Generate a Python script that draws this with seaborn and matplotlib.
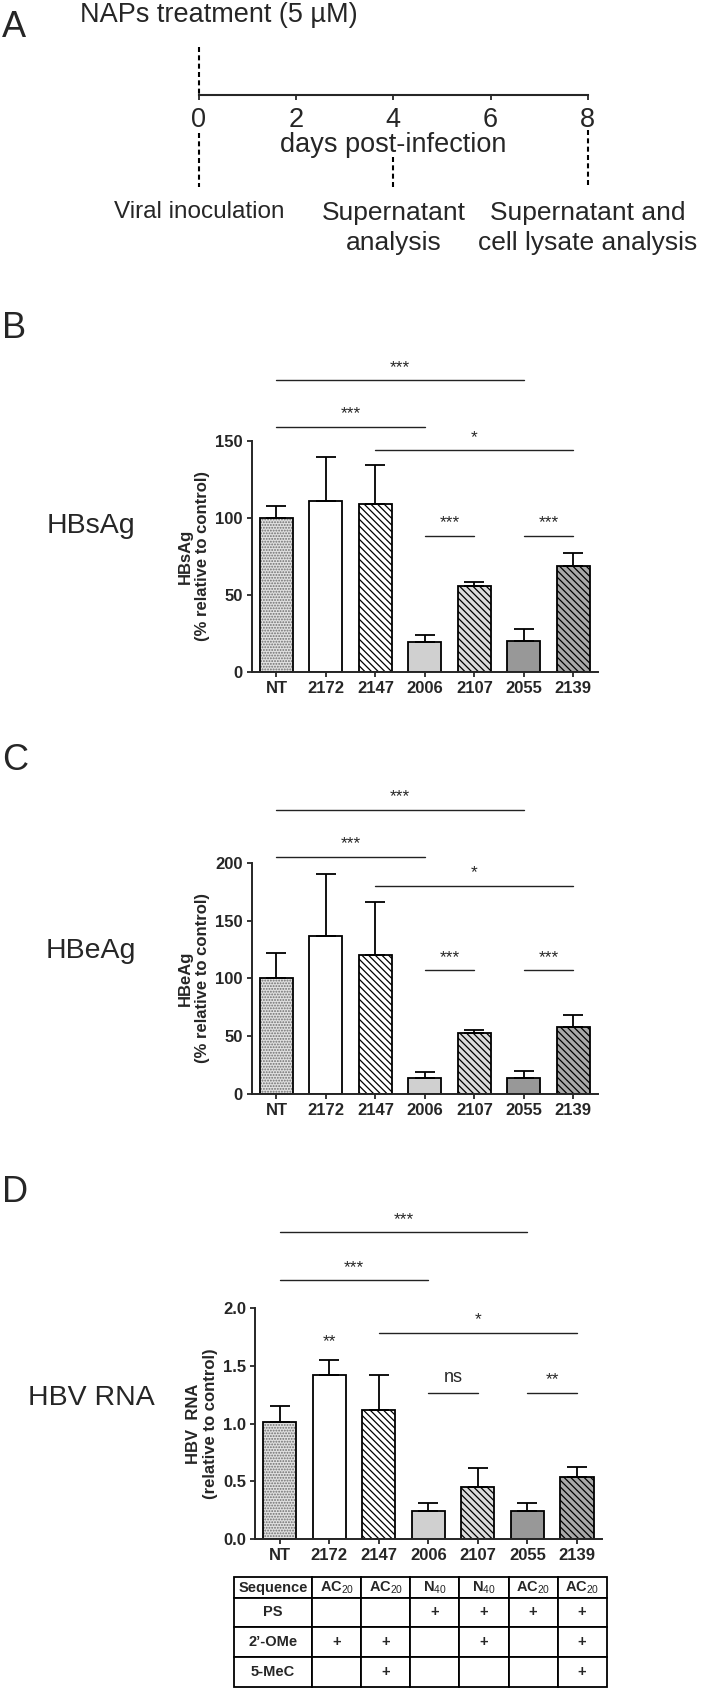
import matplotlib
matplotlib.use("Agg")
import matplotlib.pyplot as plt
import seaborn as sns
import pandas as pd
from matplotlib.patches import Rectangle

# ---- data ----
samples = ["NT", "2172", "2147", "2006", "2107", "2055", "2139"]

hbsag_mean = [100, 111, 109, 19.5, 55.7, 20.2, 68.9]
hbsag_err = [7.5, 28.6, 25.4, 4.3, 2.4, 7.3, 8.3]
hbeag_mean = [100, 136.6, 119.9, 14.1, 53.0, 13.5, 57.6]
hbeag_err = [21.6, 53.3, 45.8, 5.2, 2.3, 6.7, 10.4]
rna_mean = [1.01, 1.415, 1.115, 0.248, 0.452, 0.248, 0.539]
rna_err = [0.144, 0.132, 0.308, 0.066, 0.167, 0.066, 0.086]

hbsag_ticks = [0, 50, 100, 150]
hbeag_ticks = [0, 50, 100, 150, 200]
rna_ticks = [0.0, 0.5, 1.0, 1.5, 2.0]

# significance: (from bar, to bar, height, label)
hbsag_sig = [(0, 5, 189.5, "***"), (0, 3, 159.3, "***"), (2, 6, 144, "*"),
             (3, 4, 88.4, "***"), (5, 6, 88.4, "***")]
hbeag_sig = [(0, 5, 245.8, "***"), (0, 3, 205.2, "***"), (2, 6, 179.9, "*"),
             (3, 4, 107.2, "***"), (5, 6, 107.2, "***")]
rna_sig = [(0, 5, 2.651, "***"), (0, 3, 2.237, "***"), (2, 6, 1.784, "*"),
           (3, 4, 1.266, "ns"), (5, 6, 1.266, "**")]
rna_single = [(1, 1.67, "**")]

# timeline (panel A)
days = [0, 2, 4, 6, 8]
event_days = [0, 4, 8]
event_labels = ["Viral inoculation", "Supernatant\nanalysis",
                "Supernatant and\ncell lysate analysis"]

# table under panel D
row_names = ["Sequence", "PS", "2’-OMe", "5-MeC"]
seq = ["AC$_\\mathrm{20}$", "AC$_\\mathrm{20}$", "N$_\\mathrm{40}$",
       "N$_\\mathrm{40}$", "AC$_\\mathrm{20}$", "AC$_\\mathrm{20}$"]
ps = ["", "", "+", "+", "+", "+"]
ome = ["+", "+", "", "+", "", "+"]
mec = ["", "+", "", "", "", "+"]

# ---- style ----
sns.set_style("ticks")
plt.rcParams["font.family"] = ["Liberation Sans", "DejaVu Sans"]
plt.rcParams["mathtext.fontset"] = "custom"
plt.rcParams["mathtext.rm"] = "Liberation Sans"
plt.rcParams["mathtext.bf"] = "Liberation Sans:bold"
plt.rcParams["hatch.linewidth"] = 0.9

faces = ["#e0e0e0", "white", "white", "#d0d0d0", "#dcdcdc", "#989898", "#a8a8a8"]
hatches = ["", "", "\\" * 5, "", "\\" * 5, "", "\\" * 5]

W, H = 701, 1689
fig = plt.figure(figsize=(W / 100, H / 100), dpi=100)


def px_axes(left, top, right, bottom):
    return fig.add_axes([left / W, 1 - bottom / H, (right - left) / W, (bottom - top) / H])


def bar_panel(ax, means, errs, sig, ticks, ylabel, fmt):
    df = pd.DataFrame({"sample": samples, "value": means})
    sns.barplot(data=df, x="sample", y="value", hue="sample", order=samples,
                hue_order=samples, palette=faces, saturation=1, width=0.67,
                edgecolor="black", linewidth=1.3, errorbar=None, legend=False, ax=ax)
    bars = [c[0] for c in ax.containers]
    xs = [b.get_x() + b.get_width() / 2 for b in bars]
    for b, h in zip(bars, hatches):
        b.set_hatch(h)
    # stippled NT bar
    nt = bars[0]
    ax.add_patch(Rectangle(nt.get_xy(), nt.get_width(), nt.get_height(),
                           facecolor=faces[0], edgecolor="#6e6e6e", lw=0,
                           hatch="......", zorder=nt.get_zorder() - 0.01))
    nt.set_facecolor("none")

    ax.errorbar(xs, means, yerr=[[0] * len(errs), errs], fmt="none", ecolor="black",
                elinewidth=1.3, capsize=7.5, capthick=1.3, zorder=3)

    for i, j, y, lab in sig:
        ax.plot([xs[i], xs[j]], [y, y], color="#222222", lw=1.0, clip_on=False)
        ax.annotate(lab, xy=((xs[i] + xs[j]) / 2, y),
                    xytext=(0, 8 if lab == "ns" else 6), textcoords="offset points",
                    ha="center", va="baseline", fontsize=13 if lab == "ns" else 12.5,
                    annotation_clip=False)

    ax.set_xlim(-0.5, 6.5)
    ax.set_ylim(ticks[0], ticks[-1])
    ax.set_yticks(ticks)
    ax.set_yticklabels([fmt.format(t) for t in ticks])
    sns.despine(ax=ax)
    for s in ("left", "bottom"):
        ax.spines[s].set_linewidth(1.4)
    ax.tick_params(axis="both", direction="out", length=3.6, width=1.3,
                   labelsize=12, pad=2.8)
    for lbl in ax.get_xticklabels() + ax.get_yticklabels():
        lbl.set_fontweight("bold")
    ax.set_xlabel("")
    ax.set_ylabel(ylabel, fontsize=12, fontweight="bold", labelpad=3.5)
    return xs


# ---- panel A: timeline ----
axA = px_axes(199, 0, 587.7, 270)
axA.set_xlim(0, 8)
axA.set_ylim(270, 0)
axA.patch.set_alpha(0)
for s in ("left", "right", "top"):
    axA.spines[s].set_visible(False)
axA.spines["bottom"].set_position(("data", 95))
axA.spines["bottom"].set_linewidth(1.5)
axA.set_yticks([])
axA.set_xticks(days)
axA.set_xticklabels([str(d) for d in days])
axA.tick_params(axis="x", direction="out", length=3.6, width=1.3, labelsize=19.5, pad=5)
dash_spans = {0: [(47, 97), (133, 187)], 4: [(157, 188)], 8: [(130, 187)]}
for d in event_days:
    for y0, y1 in dash_spans[d]:
        axA.vlines(d, y0, y1, colors="black", lw=1.5, linestyles=(0, (2.4, 1.6)),
                   clip_on=False)
axA.text(4, 151.5, "days post-infection", ha="center", va="baseline", fontsize=19.5)
for d, lab in zip(event_days, event_labels):
    axA.text(d, 201, lab, ha="center", va="top",
             fontsize=17.5 if d == 0 else 19, linespacing=1.3, clip_on=False)

fig.text(80 / W, 1 - 22 / H, "NAPs treatment (5 µM)", fontsize=19.5, va="baseline")

# ---- panels B, C, D ----
axB = px_axes(251.7, 441, 598, 671.7)
bar_panel(axB, hbsag_mean, hbsag_err, hbsag_sig, hbsag_ticks,
          "HBsAg\n(% relative to control)", "{:.0f}")
axC = px_axes(251.7, 862.7, 598, 1094)
bar_panel(axC, hbeag_mean, hbeag_err, hbeag_sig, hbeag_ticks,
          "HBeAg\n(% relative to control)", "{:.0f}")
axD = px_axes(255, 1307.7, 601.7, 1539.3)
xsD = bar_panel(axD, rna_mean, rna_err, rna_sig, rna_ticks,
                "HBV  RNA\n(relative to control)", "{:.1f}")
for i, y, lab in rna_single:
    axD.text(xsD[i], y, lab, ha="center", va="baseline", fontsize=12.5)

# panel letters and side labels
for letter, base in zip("ABCD", [37, 338, 770, 1202]):
    fig.text(2 / W, 1 - base / H, letter, fontsize=26, va="baseline")
for name, base in zip(["HBsAg", "HBeAg", "HBV RNA"], [533, 958, 1405]):
    fig.text(91 / W, 1 - base / H, name, fontsize=20.5, ha="center", va="baseline")

# ---- table ----
axT = px_axes(234, 1577.3, 606.7, 1686.7)
axT.axis("off")
cells = [[row_names[0]] + seq, [row_names[1]] + ps,
         [row_names[2]] + ome, [row_names[3]] + mec]
col_w = [78.3] + [49.07] * 6
tbl = axT.table(cellText=cells, cellLoc="center",
                colWidths=[w / sum(col_w) for w in col_w], bbox=[0, 0, 1, 1])
tbl.auto_set_font_size(False)
tbl.set_fontsize(10.5)
row_h = [20.7, 28.7, 30, 30]
for (r, c), cell in tbl.get_celld().items():
    cell.set_height(row_h[r])
    cell.set_linewidth(1.3)
    cell.get_text().set_fontweight("bold")

fig.savefig("out.png", dpi=100)
plt.close(fig)
